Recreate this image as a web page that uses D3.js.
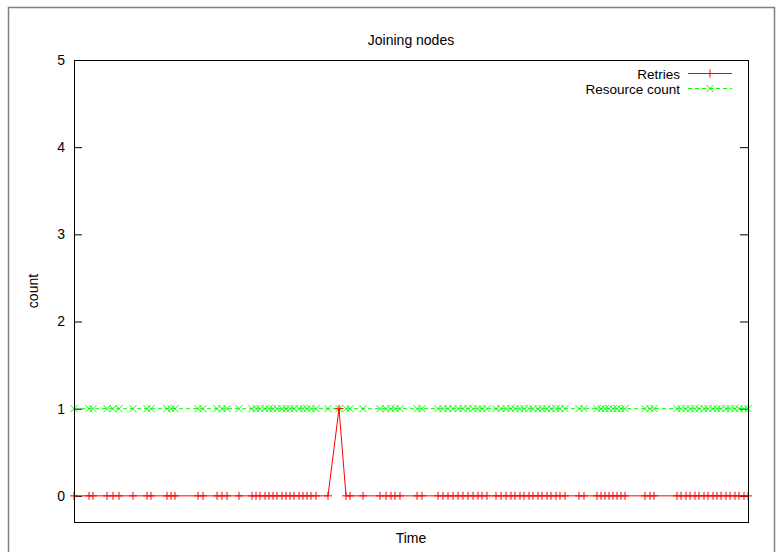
<!DOCTYPE html>
<html>
<head>
<meta charset="utf-8">
<script src="https://cdn.jsdelivr.net/npm/d3@7"></script>
<style>
  body { margin: 0; background: #fff; }
  text { font-family: "Liberation Sans", Arial, sans-serif; font-size: 14px; fill: #000; }
</style>
</head>
<body>
<script>
  // sample times (s since start)
  var times = [0, 15, 19, 33, 39, 45, 59, 73, 77, 93, 97, 101, 124, 129, 143, 148, 153, 165,
    178, 182, 186, 191, 195, 199, 203, 208, 212, 216, 220, 225, 229, 233, 237, 242,
    254, 265, 272, 276, 289, 306, 312, 317, 321, 326, 343, 348,
    364, 369, 374, 379, 384, 389, 394, 399, 404, 408, 413,
    422, 427, 432, 437, 441, 446, 450, 455, 459, 464, 468, 473, 477, 482, 486, 491,
    505, 510, 523, 527, 531, 535, 539, 543, 547, 551, 571, 576, 580,
    603, 607, 612, 616, 621, 625, 630, 634, 639, 643, 647, 652, 656, 661, 665, 670, 674];
  var retries = times.map(function(t){ return t === 265 ? 1 : 0; });
  var resources = times.map(function(){ return 1; });
  var yTicks = [0, 1, 2, 3, 4, 5];
  var seriesNames = ["Retries", "Resource count"];

  var chart = {
    "width": 776,
    "height": 552,
    "left": 74,
    "right": 748,
    "top": 60,
    "bottom": 522
  };

  var svg = d3.select("body").append("svg")
    .attr("width", chart.width)
    .attr("height", chart.height);

  // outer frame
  svg.append("rect")
    .attr("x", 8.5).attr("y", 7.5)
    .attr("width", 766).attr("height", 560)
    .attr("fill", "none").attr("stroke", "#808080").attr("stroke-width", 1.5);

  var x = d3.scaleLinear().domain(d3.extent(times)).range([chart.left, chart.right]);
  var y = d3.scaleLinear().domain([-0.3, 5]).range([chart.bottom, chart.top]);

  // y axis left, mirrored on the right
  var yAxisL = svg.append("g")
    .attr("transform", "translate(" + chart.left + ",0)")
    .call(d3.axisLeft(y).tickValues(yTicks).tickFormat(d3.format("d")).tickSizeInner(-8).tickSizeOuter(0).tickPadding(9));
  yAxisL.select(".domain").remove();
  yAxisL.selectAll("text").style("font-size", "14px");

  var yAxisR = svg.append("g")
    .attr("transform", "translate(" + chart.right + ",0)")
    .call(d3.axisRight(y).tickValues(yTicks).tickSizeInner(-8).tickSizeOuter(0).tickFormat(""));
  yAxisR.select(".domain").remove();

  var line0 = d3.line()
    .x(function(d, i){ return x(times[i]); })
    .y(function(d){ return y(d); });

  // resource count
  svg.append("path")
    .datum(resources)
    .attr("d", line0)
    .attr("fill", "none").attr("stroke", "#00ff00").attr("stroke-width", 1)
    .attr("stroke-dasharray", "4,3");
  svg.append("g").selectAll("path")
    .data(resources)
    .enter().append("path")
    .attr("d", "M-3.5,-3.5L3.5,3.5M-3.5,3.5L3.5,-3.5")
    .attr("transform", function(d, i){ return "translate(" + x(times[i]) + "," + y(d) + ")"; })
    .attr("stroke", "#00ff00").attr("stroke-width", 1).attr("fill", "none");

  // retries
  svg.append("path")
    .datum(retries)
    .attr("d", line0)
    .attr("fill", "none").attr("stroke", "#ff0000").attr("stroke-width", 1);
  svg.append("g").selectAll("path")
    .data(retries)
    .enter().append("path")
    .attr("d", "M-4,0L4,0M0,-4L0,4")
    .attr("transform", function(d, i){ return "translate(" + x(times[i]) + "," + y(d) + ")"; })
    .attr("stroke", "#ff0000").attr("stroke-width", 1).attr("fill", "none");

  // plot border
  svg.append("rect")
    .attr("x", chart.left + 0.5).attr("y", chart.top + 0.5)
    .attr("width", chart.right - chart.left).attr("height", chart.bottom - chart.top)
    .attr("fill", "none").attr("stroke", "#000").attr("stroke-width", 1);

  // titles
  svg.append("text")
    .attr("x", (chart.left + chart.right) / 2).attr("y", 45)
    .attr("text-anchor", "middle").text("Joining nodes");
  svg.append("text")
    .attr("x", (chart.left + chart.right) / 2).attr("y", 543)
    .attr("text-anchor", "middle").text("Time");
  svg.append("text")
    .attr("transform", "translate(38," + (chart.top + chart.bottom) / 2 + ") rotate(-90)")
    .attr("text-anchor", "middle").text("count");

  // legend
  var legend = svg.append("g");
  var styles = [
    {"color": "#ff0000", "dash": null, "mark": "M-4,0L4,0M0,-4L0,4"},
    {"color": "#00ff00", "dash": "4,3", "mark": "M-3.5,-3.5L3.5,3.5M-3.5,3.5L3.5,-3.5"}
  ];
  seriesNames.forEach(function(name, i){
    var ly = 73.5 + i * 15;
    legend.append("text")
      .attr("x", 680).attr("y", ly + 5)
      .attr("text-anchor", "end").style("font-size", "13.5px").text(name);
    legend.append("line")
      .attr("x1", 688).attr("x2", 732).attr("y1", ly).attr("y2", ly)
      .attr("stroke", styles[i].color).attr("stroke-dasharray", styles[i].dash);
    legend.append("path")
      .attr("d", styles[i].mark)
      .attr("transform", "translate(710," + ly + ")")
      .attr("stroke", styles[i].color).attr("fill", "none");
  });
</script>
</body>
</html>
